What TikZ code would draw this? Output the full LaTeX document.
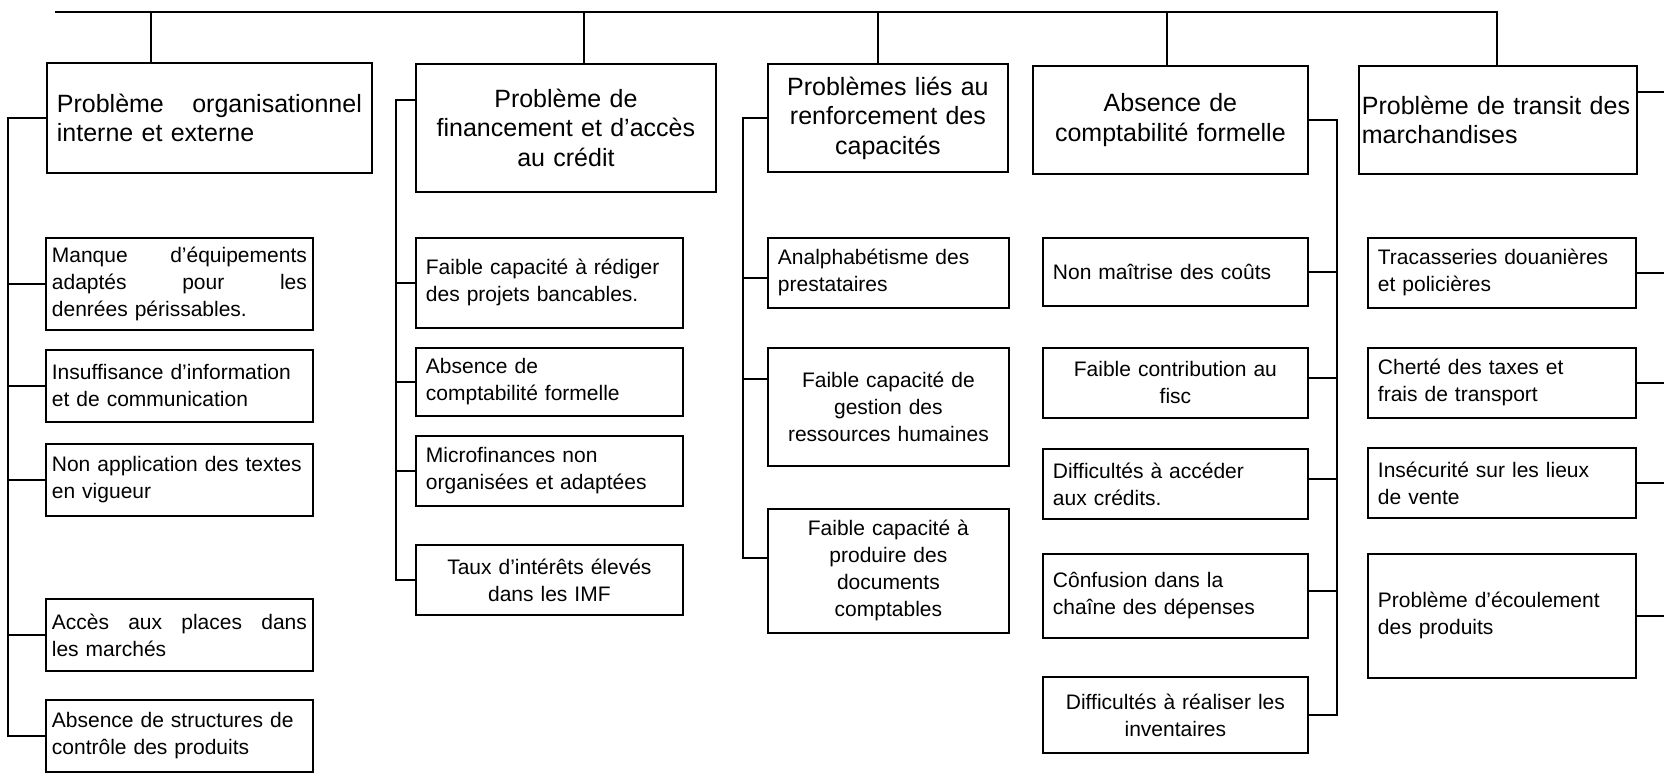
\documentclass[tikz,border=0pt]{standalone}
\usepackage{fontspec}
\setmainfont{Liberation Sans}
\newcommand\titre{\fontsize{25}{29.5}\selectfont}
\newcommand\soustitre{\fontsize{21}{27}\selectfont}
\begin{document}
\begin{tikzpicture}[x=1pt, y=-1pt, line cap=rect]
	\tikzset{lien/.style={line width=1.8pt},
		boite/.style={draw, line width=1.8pt, anchor=north west, inner xsep=10pt, inner ysep=0pt, font=\soustitre, align=left},
		tete/.style={boite, font=\titre}}
	\useasboundingbox (0,0) rectangle (1664,778);
	% premier niveau
	\node[tete, text width=305pt, minimum height=110pt] (pa) at (46,62) {Problème\hfill organisationnel\\interne et externe};
	\node[tete, text width=280pt, minimum height=128pt, align=center] (pb) at (415,63) {Problème de\\financement et d’accès\\au crédit};
	\node[tete, text width=220pt, minimum height=108pt, align=center] (pc) at (767,63) {Problèmes liés au\\renforcement des\\capacités};
	\node[tete, text width=255pt, minimum height=108pt, align=center] (pd) at (1032,65) {Absence de\\comptabilité formelle};
	\node[tete, inner xsep=3pt, text width=272pt, minimum height=108pt] (pe) at (1358,65) {Problème de transit des\\marchandises};
	% colonne 1
	\node[boite, inner xsep=6pt, text width=255pt, minimum height=92pt] (a1) at (45,237) {Manque\hfill d’équipements\\adaptés\hfill pour\hfill les\\denrées périssables.};
	\node[boite, inner xsep=6pt, text width=255pt, minimum height=72pt] (a2) at (45,349) {Insuffisance d’information\\et de communication};
	\node[boite, inner xsep=6pt, text width=255pt, minimum height=72pt] (a3) at (45,443) {Non application des textes\\en vigueur};
	\node[boite, inner xsep=6pt, text width=255pt, minimum height=72pt] (a4) at (45,598) {Accès\hfill aux\hfill places\hfill dans\\les marchés};
	\node[boite, inner xsep=6pt, text width=255pt, minimum height=72pt] (a5) at (45,699) {Absence de structures de\\contrôle des produits};
	% colonne 2
	\node[boite, text width=247pt, minimum height=90pt] (b1) at (415,237) {Faible capacité à rédiger\\des projets bancables.};
	\node[boite, text width=247pt, minimum height=68pt] (b2) at (415,347) {Absence de\\comptabilité formelle};
	\node[boite, text width=247pt, minimum height=70pt] (b3) at (415,435) {Microfinances non\\organisées et adaptées};
	\node[boite, text width=247pt, minimum height=70pt, align=center] (b4) at (415,544) {Taux d’intérêts élevés\\dans les IMF};
	% colonne 3
	\node[boite, text width=221pt, minimum height=70pt] (c1) at (767,237) {Analphabétisme des\\prestataires};
	\node[boite, text width=221pt, minimum height=118pt, align=center] (c2) at (767,347) {Faible capacité de\\gestion des\\ressources humaines};
	\node[boite, text width=221pt, minimum height=124pt, align=center] (c3) at (767,508) {Faible capacité à\\produire des\\documents\\comptables};
	% colonne 4
	\node[boite, text width=245pt, minimum height=68pt] (d1) at (1042,237) {Non maîtrise des coûts};
	\node[boite, text width=245pt, minimum height=70pt, align=center] (d2) at (1042,347) {Faible contribution au\\fisc};
	\node[boite, text width=245pt, minimum height=70pt] (d3) at (1042,448) {Difficultés à accéder\\aux crédits.};
	\node[boite, text width=245pt, minimum height=84pt] (d4) at (1042,553) {Cônfusion dans la\\chaîne des dépenses};
	\node[boite, text width=245pt, minimum height=76pt, align=center] (d5) at (1042,676) {Difficultés à réaliser les\\inventaires};
	% colonne 5
	\node[boite, text width=248pt, minimum height=70pt] (e1) at (1367,237) {Tracasseries douanières\\et policières};
	\node[boite, text width=248pt, minimum height=70pt] (e2) at (1367,347) {Cherté des taxes et\\frais de transport};
	\node[boite, text width=248pt, minimum height=70pt] (e3) at (1367,447) {Insécurité sur les lieux\\de vente};
	\node[boite, text width=248pt, minimum height=124pt] (e4) at (1367,553) {Problème d’écoulement\\des produits};
	% barre du haut
	\coordinate (tg) at (56,12);
	\coordinate (ta) at (151,12);
	\coordinate (tb) at (584,12);
	\coordinate (tc) at (878,12);
	\coordinate (td) at (1167,12);
	\coordinate (te) at (1497,12);
	\draw[lien] (tg) -- (te);
	\foreach \t/\p in {ta/pa,tb/pb,tc/pc,td/pd,te/pe}
		\draw[lien] (\t) -- (\t |- \p.north);
	% bus verticaux
	\coordinate (ga) at (8,0);
	\coordinate (gb) at (396,0);
	\coordinate (gc) at (743,0);
	\coordinate (gd) at (1337,0);
	\coordinate (ge) at (1664,0);
	\draw[lien] (pa.west) -- (pa.west -| ga) |- (a5.west);
	\foreach \n in {a1,a2,a3,a4}
		\draw[lien] (\n.west) -- (\n.west -| ga);
	\draw[lien] ([yshift=28pt]pb.west) -- ([yshift=28pt]pb.west -| gb) |- (b4.west);
	\foreach \n in {b1,b2,b3}
		\draw[lien] (\n.west) -- (\n.west -| gb);
	\draw[lien] (pc.west) -- (pc.west -| gc) |- ([yshift=13pt]c3.west);
	\draw[lien] ([yshift=-5pt]c1.west) -- ([yshift=-5pt]c1.west -| gc);
	\draw[lien] ([yshift=28pt]c2.west) -- ([yshift=28pt]c2.west -| gc);
	\draw[lien] (pd.east) -- (pd.east -| gd) |- (d5.east);
	\draw[lien] (d1.east) -- (d1.east -| gd);
	\foreach \n in {d2,d3,d4}
		\draw[lien] ([yshift=5pt]\n.east) -- ([yshift=5pt]\n.east -| gd);
	\draw[lien] ([yshift=28pt]pe.east) -- ([yshift=28pt]pe.east -| ge);
	\foreach \n in {e1,e2,e3,e4}
		\draw[lien] (\n.east) -- (\n.east -| ge);
\end{tikzpicture}
\end{document}
